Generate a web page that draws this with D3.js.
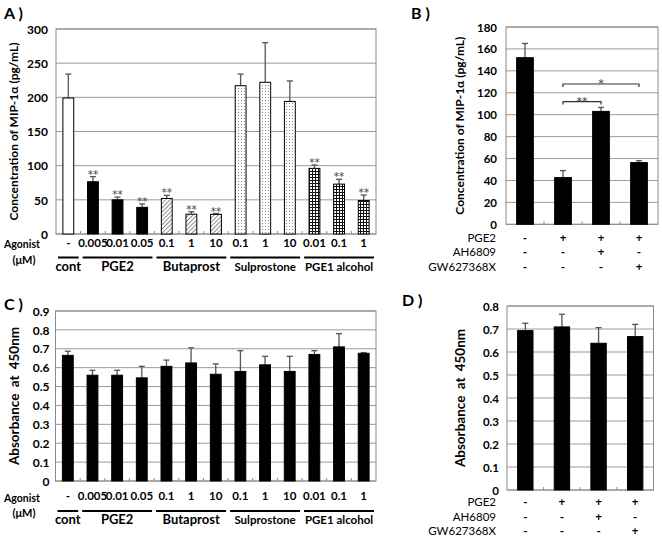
<!DOCTYPE html>
<html><head><meta charset="utf-8">
<script src="https://cdn.jsdelivr.net/npm/d3@7"></script>
<style>
html,body{margin:0;padding:0;background:#fff;}
svg{display:block;font-family:Lato,"Open Sans",sans-serif;}
</style></head>
<body>
<script>
// ---------- DATA ----------
const groupNames = ["cont", "PGE2", "Butaprost", "Sulprostone", "PGE1 alcohol"];
const barGroup = [0, 1, 1, 1, 2, 2, 2, 3, 3, 3, 4, 4, 4];
const concLabels = ["-", "0.005", "0.01", "0.05", "0.1", "1", "10", "0.1", "1", "10", "0.01", "0.1", "1"];
const mipA = [199, 76.5, 50, 39, 52, 29, 28.8, 217, 222, 194, 96, 73, 49];
const mipAErrTop = [234, 84, 54, 44, 56.6, 32.6, 30, 234, 280, 224, 101, 80, 57];
const sigA = ["", "**", "**", "**", "**", "**", "**", "", "", "", "**", "**", "**"];
const absC = [0.665, 0.56, 0.56, 0.546, 0.607, 0.625, 0.565, 0.58, 0.615, 0.58, 0.67, 0.71, 0.676];
const absCErrTop = [0.687, 0.586, 0.586, 0.607, 0.64, 0.705, 0.62, 0.69, 0.66, 0.66, 0.69, 0.78, 0.68];
const ticksA = [0, 50, 100, 150, 200, 250, 300];
const ticksC = [0, 0.1, 0.2, 0.3, 0.4, 0.5, 0.6, 0.7, 0.8, 0.9];

const rowLabels = ["PGE2", "AH6809", "GW627368X"];
const rowSigns = [["-", "+", "+", "+"], ["-", "-", "+", "-"], ["-", "-", "-", "+"]];
const mipB = [152, 42.6, 103, 56.3];
const mipBErrTop = [165, 49, 106.6, 58];
const absD = [0.693, 0.709, 0.638, 0.667];
const absDErrTop = [0.725, 0.764, 0.706, 0.72];
const ticksB = [0, 20, 40, 60, 80, 100, 120, 140, 160, 180];
const ticksD = [0, 0.1, 0.2, 0.3, 0.4, 0.5, 0.6, 0.7, 0.8];
const bracketsB = [{from: 1, to: 2, y: 112, label: "**"}, {from: 1, to: 3, y: 128, label: "*"}];

// ---------- SVG ----------
const svg = d3.select("body").append("svg").attr("width", 662).attr("height", 537);
const defs = svg.append("defs");
const ph = defs.append("pattern").attr("id", "hatch").attr("patternUnits", "userSpaceOnUse")
  .attr("width", 3).attr("height", 3).attr("patternTransform", "rotate(45)");
ph.append("rect").attr("width", 3).attr("height", 3).attr("fill", "#fff");
ph.append("line").attr("x1", 0).attr("y1", 0).attr("x2", 0).attr("y2", 3).attr("stroke", "#444").attr("stroke-width", 1.2);
const pd = defs.append("pattern").attr("id", "dots").attr("patternUnits", "userSpaceOnUse")
  .attr("width", 3).attr("height", 3);
pd.append("rect").attr("width", 3).attr("height", 3).attr("fill", "#fff");
pd.append("rect").attr("x", 1).attr("y", 1).attr("width", 1).attr("height", 1).attr("fill", "#888");
const pg = defs.append("pattern").attr("id", "grid").attr("patternUnits", "userSpaceOnUse")
  .attr("width", 3).attr("height", 3);
pg.append("rect").attr("width", 3).attr("height", 3).attr("fill", "#fff");
pg.append("path").attr("d", "M0,0.5H3M0.5,0V3").attr("stroke", "#111").attr("stroke-width", 1);

const groupFill = ["#fff", "#000", "url(#hatch)", "url(#dots)", "url(#grid)"];
const starFont = "DejaVu Sans";

function panel(cfg) {
  const g = svg.append("g");
  const x = d3.scaleBand().domain(d3.range(cfg.values.length)).range([cfg.x0, cfg.x1]);
  const y = d3.scaleLinear().domain([0, cfg.ymax]).range([cfg.yb, cfg.yt]);
  g.append("g").selectAll("line").data(cfg.ticks).join("line")
    .attr("x1", cfg.x0).attr("x2", cfg.x1).attr("y1", d => y(d)).attr("y2", d => y(d))
    .attr("stroke", "#9a9a9a").attr("stroke-width", 1);
  g.append("rect").attr("x", cfg.x0).attr("y", cfg.yt).attr("width", cfg.x1 - cfg.x0).attr("height", cfg.yb - cfg.yt)
    .attr("fill", "none").attr("stroke", "#8a8a8a").attr("stroke-width", 1);
  const ax = g.append("g").attr("transform", `translate(${cfg.x0 - cfg.labelGap},0)`)
    .call(d3.axisLeft(y).tickValues(cfg.ticks).tickSize(0).tickPadding(0)
      .tickFormat(d => d === 0 ? "0" : d3.format(cfg.fmt)(d)));
  ax.select(".domain").remove();
  ax.selectAll("text").attr("font-family", "Lato").attr("font-weight", "bold")
    .attr("font-size", cfg.tickFont).attr("fill", "#000").attr("dy", "0.35em");
  g.append("g").selectAll("line").data(d3.range(1, cfg.values.length)).join("line")
    .attr("x1", i => x(i)).attr("x2", i => x(i)).attr("y1", cfg.yb).attr("y2", cfg.yb - 3)
    .attr("stroke", "#8a8a8a");
  const bw = x.bandwidth() * cfg.barFrac;
  const eg = g.append("g");
  cfg.values.forEach((v, i) => {
    const cx = x(i) + x.bandwidth() / 2;
    eg.append("line").attr("x1", cx).attr("x2", cx).attr("y1", y(v)).attr("y2", y(cfg.errTop[i]))
      .attr("stroke", "#555").attr("stroke-width", 1.3);
    eg.append("line").attr("x1", cx - 3).attr("x2", cx + 3).attr("y1", y(cfg.errTop[i])).attr("y2", y(cfg.errTop[i]))
      .attr("stroke", "#555").attr("stroke-width", 1.3);
  });
  g.append("g").selectAll("rect").data(cfg.values).join("rect")
    .attr("x", (d, i) => x(i) + (x.bandwidth() - bw) / 2).attr("width", bw)
    .attr("y", d => y(d)).attr("height", d => cfg.yb - y(d))
    .attr("fill", (d, i) => cfg.fill ? cfg.fill(i) : "#000")
    .attr("stroke", "#000").attr("stroke-width", 1);
  g.append("text").attr("transform", `translate(${cfg.titleX},${(cfg.yt + cfg.yb) / 2}) rotate(-90)`)
    .attr("text-anchor", "middle").attr("font-weight", "bold").attr("font-size", cfg.titleFont)
    .attr("word-spacing", cfg.wordSpacing || 0)
    .attr("dy", "0.35em").text(cfg.title);
  g.append("text").attr("x", cfg.letterX).attr("y", cfg.letterY).attr("font-weight", "bold")
    .attr("font-size", 16).text(cfg.letter);
  return {g, x, y};
}

function agonistLabels(p, base) {
  const {g, x} = p;
  const c = i => x(i) + x.bandwidth() / 2;
  g.append("text").attr("x", 22).attr("y", base + 1.5).attr("text-anchor", "middle").attr("font-weight", "bold")
    .attr("font-size", 10.5).text("Agonist");
  g.append("text").attr("x", 24).attr("y", base + 17).attr("text-anchor", "middle").attr("font-weight", "bold")
    .attr("font-size", 11).text("(μM)");
  g.append("g").selectAll("text").data(concLabels).join("text")
    .attr("x", (d, i) => c(i)).attr("y", base).attr("text-anchor", "middle").attr("font-weight", "bold")
    .attr("font-size", 11.5).text(d => d);
  groupNames.forEach((name, gi) => {
    const idx = barGroup.map((v, i) => v === gi ? i : -1).filter(i => i >= 0);
    const xa = x(idx[0]) + 2, xb = x(idx[idx.length - 1]) + x.bandwidth() - 2;
    g.append("line").attr("x1", xa).attr("x2", xb).attr("y1", base + 11).attr("y2", base + 11)
      .attr("stroke", "#000").attr("stroke-width", 2);
    g.append("text").attr("x", (xa + xb) / 2).attr("y", base + 24).attr("text-anchor", "middle")
      .attr("font-weight", "bold").attr("font-size", name.length > 9 ? 11.5 : 13).text(name);
  });
}

function conditionRows(p, base) {
  const {g, x} = p;
  rowLabels.forEach((lab, r) => {
    g.append("text").attr("x", 496).attr("y", base + r * 14.5).attr("text-anchor", "end")
      .attr("font-size", 11.5).text(lab);
    rowSigns[r].forEach((s, i) => {
      g.append("text").attr("x", x(i) + x.bandwidth() / 2).attr("y", base + r * 14.5)
        .attr("text-anchor", "middle").attr("font-size", 11.5).attr("font-weight", "bold").text(s);
    });
  });
}

// Panel A
const pA = panel({values: mipA, errTop: mipAErrTop, ticks: ticksA, ymax: 300, fmt: "d",
  x0: 56, x1: 376, yb: 234, yt: 29, barFrac: 0.44, labelGap: 8, tickFont: 12,
  fill: i => groupFill[barGroup[i]], title: "Concentration of MIP-1α (pg/mL)", titleX: 14, titleFont: 12,
  letter: "A )", letterX: 4, letterY: 19});
pA.g.append("g").selectAll("text").data(sigA).join("text")
  .attr("x", (d, i) => pA.x(i) + pA.x.bandwidth() / 2).attr("y", (d, i) => pA.y(mipAErrTop[i]) + 1)
  .attr("text-anchor", "middle").attr("font-family", starFont).attr("font-size", 10.5)
  .attr("fill", "#444").text(d => d);
agonistLabels(pA, 246.5);

// Panel C
const pC = panel({values: absC, errTop: absCErrTop, ticks: ticksC, ymax: 0.9, fmt: ".1f",
  x0: 55.5, x1: 376, yb: 481, yt: 311, barFrac: 0.44, labelGap: 6, tickFont: 12,
  title: "Absorbance at 450nm", titleX: 14, titleFont: 13.5, wordSpacing: 3,
  letter: "C )", letterX: 4, letterY: 310});
agonistLabels(pC, 500);

// Panel B
const pB = panel({values: mipB, errTop: mipBErrTop, ticks: ticksB, ymax: 180, fmt: "d",
  x0: 506, x1: 658, yb: 224.3, yt: 27, barFrac: 0.44, labelGap: 9, tickFont: 11.5,
  title: "Concentration of MIP-1α (pg/mL)", titleX: 460, titleFont: 12,
  letter: "B )", letterX: 411, letterY: 19});
bracketsB.forEach(b => {
  const xa = pB.x(b.from) + pB.x.bandwidth() / 2, xb = pB.x(b.to) + pB.x.bandwidth() / 2;
  const yy = pB.y(b.y);
  pB.g.append("path").attr("d", `M${xa},${yy + 3}V${yy}H${xb}V${yy + 3}`)
    .attr("fill", "none").attr("stroke", "#333").attr("stroke-width", 1.2);
  pB.g.append("text").attr("x", (xa + xb) / 2).attr("y", yy + 3).attr("text-anchor", "middle")
    .attr("font-family", starFont).attr("font-size", 11).attr("fill", "#333").text(b.label);
});
conditionRows(pB, 241.5);

// Panel D
const pD = panel({values: absD, errTop: absDErrTop, ticks: ticksD, ymax: 0.8, fmt: ".1f",
  x0: 507, x1: 653.5, yb: 490, yt: 306, barFrac: 0.42, labelGap: 8, tickFont: 11.5,
  title: "Absorbance at 450nm", titleX: 460, titleFont: 13.5, wordSpacing: 3,
  letter: "D )", letterX: 402, letterY: 306});
conditionRows(pD, 506);
</script>
</body></html>
